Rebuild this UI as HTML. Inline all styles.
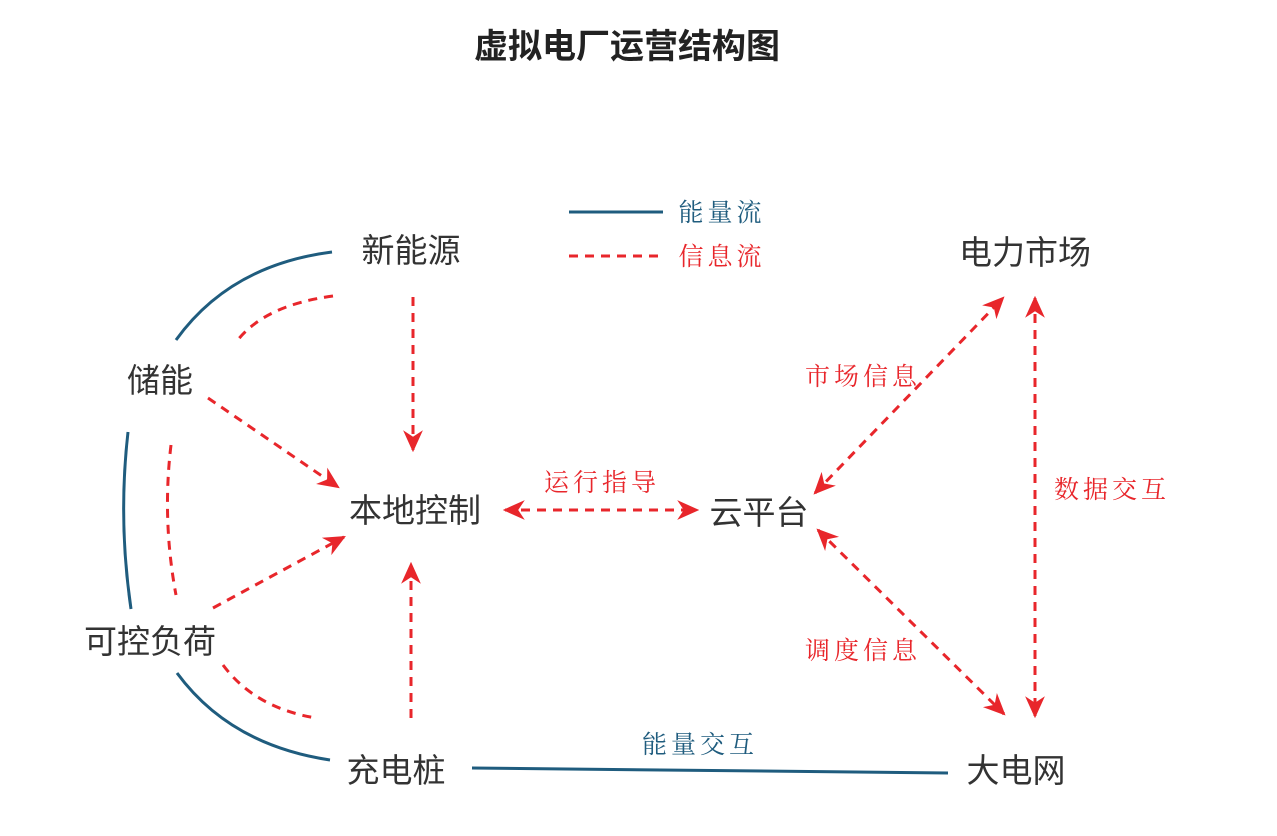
<!DOCTYPE html>
<html><head><meta charset="utf-8"><style>
html,body{margin:0;padding:0;background:#fff;}
svg{display:block;}
.n{font-family:"Liberation Sans","Noto Sans CJK SC",sans-serif;font-size:33px;fill:#333;text-anchor:middle;}
.r{font-family:"Liberation Serif","Noto Serif CJK SC",serif;font-size:25px;fill:#e8262b;text-anchor:middle;letter-spacing:4px;}
.b{font-family:"Liberation Serif","Noto Serif CJK SC",serif;font-size:25px;fill:#1f5c7e;text-anchor:middle;letter-spacing:4px;}
.bl{fill:none;stroke:#1f5c7e;stroke-width:3;}
.rd{fill:none;stroke:#e8262b;stroke-width:3;stroke-dasharray:9 7;}
</style></head><body>
<svg width="1277" height="836" viewBox="0 0 1277 836" xmlns="http://www.w3.org/2000/svg">
<defs>
<marker id="ah" viewBox="0 0 20 20" refX="18" refY="10" markerWidth="22" markerHeight="22" orient="auto-start-reverse" markerUnits="userSpaceOnUse">
<path d="M0,1 L20,10 L0,19 L6,10 Z" fill="#e8262b"/>
</marker>
</defs>
<text x="627" y="58" font-family="Liberation Sans,'Noto Sans CJK SC',sans-serif" font-size="34" font-weight="bold" fill="#222" text-anchor="middle">虚拟电厂运营结构图</text>

<line x1="569" y1="212" x2="663" y2="212" class="bl"/>
<line x1="569" y1="256" x2="663" y2="256" class="rd"/>
<text x="722" y="221" class="b">能量流</text>
<text x="722" y="265" class="r">信息流</text>

<text x="411" y="262" class="n">新能源</text>
<text x="160" y="392" class="n">储能</text>
<text x="415" y="522" class="n">本地控制</text>
<text x="150" y="653" class="n">可控负荷</text>
<text x="396" y="782" class="n">充电桩</text>
<text x="1025" y="264" class="n">电力市场</text>
<text x="759" y="524" class="n">云平台</text>
<text x="1016" y="782" class="n">大电网</text>

<path d="M332,252 Q230,265 176,340" class="bl"/>
<path d="M333,296 Q265,305 237,341" class="rd"/>
<path d="M128,432 Q118,520 131,609" class="bl"/>
<path d="M171,445 Q162,520 176,595" class="rd"/>
<path d="M177,673 Q230,745 330,760" class="bl"/>
<path d="M223,665 Q255,708 316,718" class="rd"/>

<line x1="413" y1="297" x2="413" y2="450" class="rd" marker-end="url(#ah)"/>
<line x1="208" y1="398" x2="338" y2="487" class="rd" marker-end="url(#ah)"/>
<line x1="213" y1="608" x2="344" y2="537" class="rd" marker-end="url(#ah)"/>
<line x1="411" y1="718" x2="411" y2="564" class="rd" marker-end="url(#ah)"/>

<line x1="505" y1="510" x2="697" y2="510" class="rd" marker-start="url(#ah)" marker-end="url(#ah)"/>
<text x="602" y="491" class="r">运行指导</text>
<line x1="815" y1="493" x2="1003" y2="298" class="rd" marker-start="url(#ah)" marker-end="url(#ah)"/>
<text x="863" y="385" class="r">市场信息</text>
<line x1="1035" y1="298" x2="1035" y2="716" class="rd" marker-start="url(#ah)" marker-end="url(#ah)"/>
<text x="1112" y="498" class="r">数据交互</text>
<line x1="818" y1="530" x2="1004" y2="714" class="rd" marker-start="url(#ah)" marker-end="url(#ah)"/>
<text x="863" y="659" class="r">调度信息</text>

<line x1="472" y1="768" x2="948" y2="773" class="bl"/>
<text x="700" y="753" class="b">能量交互</text>
</svg>
</body></html>
